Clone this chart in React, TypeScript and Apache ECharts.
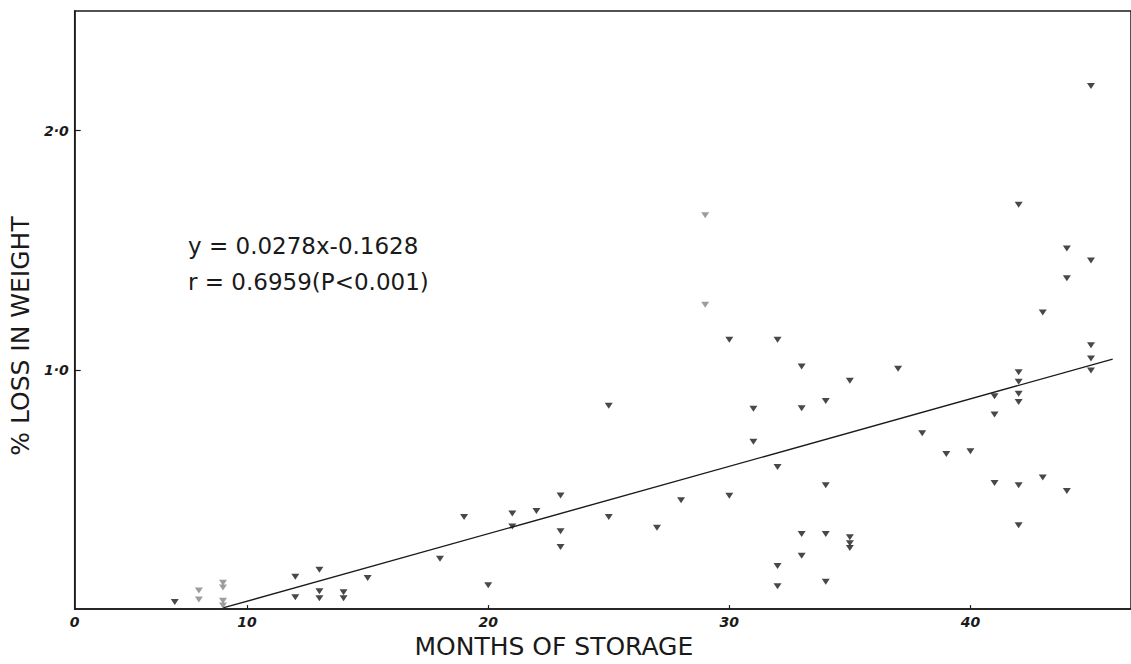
import React, { useEffect, useRef } from "react";
import * as echarts from "echarts";

// Black triangles: months of storage and % loss in weight
const blackMonths = [
  7, 12, 12, 13, 13, 13, 14, 14, 15, 18, 19, 20, 21, 21, 22, 23, 23, 23, 25, 25,
  27, 28, 30, 30, 31, 31, 32, 32, 32, 32, 33, 33, 33, 33, 34, 34, 34, 34, 35, 35,
  35, 35, 37, 38, 39, 40, 41, 41, 41, 42, 42, 42, 42, 42, 42, 42, 43, 43, 44, 44,
  44, 45, 45, 45, 45, 45,
];
const blackLoss = [
  0.03, 0.135, 0.05, 0.165, 0.075, 0.045, 0.07, 0.045, 0.13, 0.21, 0.385, 0.1,
  0.4, 0.345, 0.41, 0.475, 0.325, 0.26, 0.85, 0.385, 0.34, 0.455, 1.126, 0.474,
  0.837, 0.7, 1.126, 0.594, 0.18, 0.095, 1.014, 0.84, 0.314, 0.223, 0.87, 0.518,
  0.314, 0.114, 0.955, 0.3, 0.275, 0.255, 1.005, 0.735, 0.648, 0.66, 0.89, 0.813,
  0.527, 1.69, 0.99, 0.95, 0.9, 0.866, 0.518, 0.35, 1.24, 0.55, 1.507, 1.383,
  0.494, 2.186, 1.457, 1.103, 1.047, 0.997,
];

// Faint (grey) triangles in the scan
const greyMonths = [8, 8, 9, 9, 9, 9, 29, 29];
const greyLoss = [0.078, 0.04, 0.11, 0.09, 0.035, 0.015, 1.646, 1.272];

// Regression line as drawn
const fitMonths = [9.0, 45.9];
const fitLoss = [0.005, 1.045];

const xTickValues = [10, 20, 30, 40];
const yTickValues = [1, 2];
const X_MIN = 2.85;
const X_MAX = 46.66;
const Y_MIN = 0;
const Y_MAX = 2.5;

const equationLines = ["y = 0.0278x-0.1628", "r = 0.6959(P<0.001)"];
const xAxisTitle = "MONTHS OF STORAGE";
const yAxisTitle = "% LOSS IN WEIGHT";

const INK = "#1a1a1a";

export default function App() {
  const ref = useRef<HTMLDivElement>(null);

  useEffect(() => {
    if (!ref.current) return;
    const chart = echarts.init(ref.current, null, { renderer: "svg" });
    const zip = (xs: number[], ys: number[]) => xs.map((x, i) => [x, ys[i]]);

    chart.setOption({
      animation: false,
      backgroundColor: "#ffffff",
      grid: {
        left: 74,
        top: 11,
        right: -2,
        bottom: 43,
        show: true,
        borderColor: INK,
        borderWidth: 1.5,
        backgroundColor: "transparent",
      },
      xAxis: {
        type: "value",
        min: X_MIN,
        max: X_MAX,
        name: xAxisTitle,
        nameLocation: "middle",
        nameGap: 16,
        nameTextStyle: {
          fontFamily: "DejaVu Sans",
          fontSize: 25,
          color: INK,
          padding: [0, 98, 0, 0],
        },
        axisLine: { show: true, lineStyle: { color: INK, width: 1.5 } },
        axisTick: {
          show: true,
          inside: true,
          length: 4,
          customValues: xTickValues,
          lineStyle: { color: INK, width: 1.2 },
        },
        axisLabel: {
          customValues: [X_MIN, ...xTickValues],
          formatter: (v: number) => (Math.abs(v - X_MIN) < 0.01 ? "0" : String(v)),
          fontFamily: "DejaVu Sans",
          fontWeight: "bold",
          fontStyle: "italic",
          fontSize: 14,
          color: INK,
          margin: 6,
        },
        splitLine: { show: false },
      },
      yAxis: {
        type: "value",
        min: Y_MIN,
        max: Y_MAX,
        name: yAxisTitle,
        nameLocation: "middle",
        nameGap: 37,
        nameTextStyle: {
          fontFamily: "DejaVu Sans",
          fontSize: 25,
          color: INK,
          padding: [0, 52, 0, 0],
        },
        axisLine: { show: true, lineStyle: { color: INK, width: 1.5 } },
        axisTick: {
          show: true,
          inside: true,
          length: 6,
          customValues: yTickValues,
          lineStyle: { color: INK, width: 1.2 },
        },
        axisLabel: {
          customValues: yTickValues,
          formatter: (v: number) => v.toFixed(1).replace(".", "·"),
          fontFamily: "DejaVu Sans",
          fontWeight: "bold",
          fontStyle: "italic",
          fontSize: 14,
          color: INK,
          margin: 6,
        },
        splitLine: { show: false },
      },
      graphic: equationLines.map((t, i) => ({
        type: "text",
        x: 188,
        y: 246 + i * 36,
        style: {
          text: t,
          fill: INK,
          font: '23px "DejaVu Sans"',
          verticalAlign: "middle",
          align: "left",
        },
      })),
      series: [
        {
          type: "line",
          data: zip(fitMonths, fitLoss),
          symbol: "none",
          lineStyle: { color: INK, width: 1.4 },
          silent: true,
          z: 1,
        },
        {
          type: "scatter",
          data: zip(blackMonths, blackLoss),
          symbol: "triangle",
          symbolRotate: 180,
          symbolSize: [8, 6],
          itemStyle: { color: INK },
          z: 3,
        },
        {
          type: "scatter",
          data: zip(greyMonths, greyLoss),
          symbol: "triangle",
          symbolRotate: 180,
          symbolSize: [8, 6],
          itemStyle: { color: "#858585" },
          z: 2,
        },
      ],
    });

    return () => chart.dispose();
  }, []);

  return (
    <div
      ref={ref}
      style={{ position: "fixed", left: 0, top: 0, width: 1131, height: 664, background: "#fff" }}
    />
  );
}
